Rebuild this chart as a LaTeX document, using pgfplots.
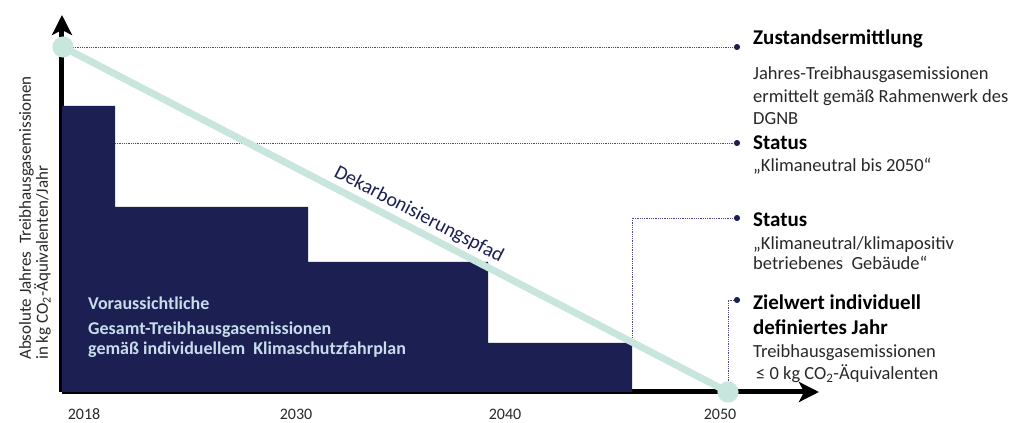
\documentclass[border=0pt]{standalone}
\usepackage{pgfplots}
\pgfplotsset{compat=1.18}
\usepackage{fontspec}
\setmainfont{Carlito}
\usetikzlibrary{arrows.meta}

\definecolor{navy}{RGB}{27,31,82}
\definecolor{mint}{RGB}{200,230,222}
\definecolor{dotblue}{RGB}{70,72,135}
\definecolor{innertext}{RGB}{200,220,236}
\definecolor{bodytext}{RGB}{40,40,40}

\tikzset{
  head/.style={anchor=base west, inner sep=0pt, text=black,
    font=\fontsize{21}{21}\selectfont\bfseries},
  body/.style={anchor=base west, inner sep=0pt, text=bodytext,
    font=\fontsize{18.5}{18.5}\selectfont},
  inner/.style={anchor=base west, inner sep=0pt, text=innertext,
    font=\fontsize{18}{18}\selectfont\bfseries},
  ylab/.style={anchor=base west, rotate=90, inner sep=0pt, text=bodytext,
    font=\fontsize{17}{17}\selectfont},
}

\begin{document}
\begin{tikzpicture}
  \begin{axis}[
      x=1pt, y=1pt,
      xmin=0, xmax=757,
      ymin=0, ymax=377,
      enlargelimits=false,
      clip=false,
      axis lines=left,
      axis line style={line width=5pt, -{Stealth[length=20pt,width=20pt,inset=5pt]}},
      xtick={22,234,443,658},
      xticklabels={2018,2030,2040,2050},
      ytick=\empty,
      major tick length=0pt,
      xticklabel style={anchor=base, yshift=-28pt, inner sep=0pt, text=bodytext,
        font=\fontsize{16}{16}\selectfont},
      /pgf/number format/assume math mode=true,
    ]
    % voraussichtliche Emissionen (Stufen)
    \addplot[const plot, fill=navy, draw=none]
      coordinates {(0,286)(53,185)(246,130)(426,49)(570,49)} \closedcycle;

    % Hinweislinien
    \addplot[dotblue, densely dotted, line width=0.8pt,
      mark=*, mark indices={2}, mark size=2.6pt,
      mark options={solid, fill=navy, draw=navy}]
      coordinates {(11,345)(675,345)};
    \addplot[dotblue, densely dotted, line width=0.8pt,
      mark=*, mark indices={2}, mark size=2.6pt,
      mark options={solid, fill=navy, draw=navy}]
      coordinates {(53,249)(675,249)};
    \addplot[dotblue, densely dotted, line width=0.8pt,
      mark=*, mark indices={3}, mark size=2.6pt,
      mark options={solid, fill=navy, draw=navy}]
      coordinates {(570,49)(570,174)(675,174)};
    \addplot[dotblue, densely dotted, line width=0.8pt,
      mark=*, mark indices={3}, mark size=2.6pt,
      mark options={solid, fill=navy, draw=navy}]
      coordinates {(666,0)(666,92)(675,92)};

    % Dekarbonisierungspfad
    \addplot[mint, line width=7pt, mark=*, mark size=7pt,
      mark options={fill=mint, draw=none}]
      coordinates {(1,345)(666,0)};

    \node[rotate=-27.4, anchor=south, inner sep=6pt, text=navy,
      font=\fontsize{20}{20}\selectfont]
      at (axis cs:350,164) {Dekarbonisierungspfad};

    % Text im Balken
    \node[inner] at (axis cs:26,82) {Voraussichtliche};
    \node[inner] at (axis cs:26,57) {Gesamt-Treibhausgasemissionen};
    \node[inner] at (axis cs:26,37) {gemäß individuellem\ \ Klimaschutzfahrplan};

    % y-Achsenbeschriftung
    \node[ylab] at (axis cs:-31,32) {Absolute Jahres\ \ Treibhausgasemissionen};
    \node[ylab] at (axis cs:-14,32) {in kg CO\textsubscript{2}-Äquivalenten/Jahr};

    % Beschriftungen rechts
    \node[head] at (axis cs:691,347) {Zustandsermittlung};
    \node[body] at (axis cs:691,312) {Jahres-Treibhausgasemissionen};
    \node[body] at (axis cs:691,289) {ermittelt gemäß Rahmenwerk des};
    \node[body] at (axis cs:691,267) {DGNB};
    \node[head] at (axis cs:691,242) {Status};
    \node[body] at (axis cs:691,220) {„Klimaneutral bis 2050“};
    \node[head] at (axis cs:691,165) {Status};
    \node[body] at (axis cs:691,142) {„Klimaneutral/klimapositiv};
    \node[body] at (axis cs:691,122) {betriebenes\ \ Gebäude“};
    \node[head] at (axis cs:691,82) {Zielwert individuell};
    \node[head] at (axis cs:691,57) {definiertes Jahr};
    \node[body] at (axis cs:691,34) {Treibhausgasemissionen};
    \node[body] at (axis cs:694,12) {≤ 0 kg CO\textsubscript{2}-Äquivalenten};
  \end{axis}
  \pgfresetboundingbox
  \path (-62pt,-31pt) rectangle (953pt,392pt);
\end{tikzpicture}
\end{document}
